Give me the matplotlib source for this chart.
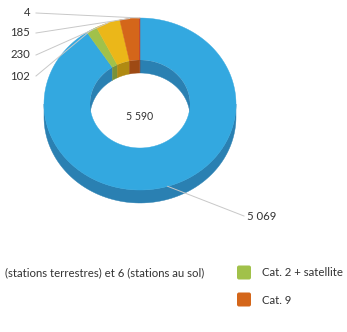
import numpy as np
import matplotlib
matplotlib.use("Agg")
import matplotlib.pyplot as plt
from matplotlib.patches import Polygon, Ellipse, FancyBboxPatch

# ---- data ----
values = [5069, 102, 230, 185, 4]
top_colors = ["#33a8e0", "#a1c14a", "#ebb719", "#d4661a", "#c0392b"]
side_colors = ["#2a80b2", "#78913a", "#b08a12", "#9e4a14", "#8e2a20"]
legend_labels = ["(stations terrestres) et 6 (stations au sol)", "Cat. 2 + satellite", "Cat. 9"]
legend_colors = ["#33a8e0", "#a1c14a", "#d4661a"]
label_pos = [(247, 216, "left"), (30, 76, "right"), (30, 55, "right"), (30, 33, "right"), (30, 13, "right")]

FONT = "Lato"
FS = 8.2
W, H = 347, 332
fig = plt.figure(figsize=(W / 100, H / 100), dpi=100)
ax = fig.add_axes([0, 0, 1, 1])
ax.set_xlim(0, W)
ax.set_ylim(H, 0)
ax.axis("off")

cx, cy = 140, 104
rx, ry = 96, 86
irx, iry = 50, 44
depth = 13

def pt(theta_deg, a, b, dy=0):
    t = np.radians(theta_deg)
    return cx + a * np.sin(t), cy - b * np.cos(t) + dy

total = sum(values)
bounds = np.concatenate([[0], np.cumsum(values)]) / total * 360.0

# outer walls (front half: 90..270)
for i in range(len(values)):
    a0, b0 = max(bounds[i], 90), min(bounds[i + 1], 270)
    if b0 <= a0:
        continue
    th = np.linspace(a0, b0, 100)
    xs, ys = pt(th, rx, ry)
    xs2, ys2 = pt(th[::-1], rx, ry, depth)
    poly = Polygon(np.column_stack([np.r_[xs, xs2], np.r_[ys, ys2]]),
                   closed=True, fc=side_colors[i], ec=side_colors[i], lw=0.3, zorder=1)
    ax.add_patch(poly)

# top faces
for i in range(len(values)):
    th = np.linspace(bounds[i], bounds[i + 1], max(3, int((bounds[i + 1] - bounds[i]) * 2)))
    xo, yo = pt(th, rx, ry)
    xi, yi = pt(th[::-1], irx, iry)
    poly = Polygon(np.column_stack([np.r_[xo, xi], np.r_[yo, yi]]),
                   closed=True, fc=top_colors[i], ec=top_colors[i], lw=0.3, zorder=2)
    ax.add_patch(poly)

# inner walls (back half: -90..90 => 270..450)
clip = Ellipse((cx, cy), 2 * irx, 2 * iry, transform=ax.transData, fc="none", ec="none")
ax.add_patch(clip)
for i in range(len(values)):
    for off in (0, 360):
        lo, hi = bounds[i], bounds[i + 1]
        a0, b0 = max(lo, 270 - off), min(hi, 450 - off)
        if b0 <= a0:
            continue
        th = np.linspace(a0, b0, 100)
        xs, ys = pt(th, irx, iry)
        xs2, ys2 = pt(th[::-1], irx, iry, depth)
        poly = Polygon(np.column_stack([np.r_[xs, xs2], np.r_[ys, ys2]]),
                       closed=True, fc=side_colors[i], ec=side_colors[i], lw=0.3, zorder=3)
        ax.add_patch(poly)
        poly.set_clip_path(clip)

# center total
ax.text(cx, cy + 13, f"{total:,}".replace(",", " "), ha="center", va="center",
        fontsize=7.6, family=FONT, color="#333333", zorder=5)

# labels with leader lines
for i, v in enumerate(values):
    mid = (bounds[i] + bounds[i + 1]) / 2
    px, py = pt(mid, rx, ry)
    lx, ly, ha = label_pos[i]
    sx = lx - 3 if ha == "left" else lx + 6
    ax.plot([sx, px], [ly, py], color="#c8c8c8", lw=0.7, zorder=4)
    ax.text(lx, ly, f"{v:,}".replace(",", " "), ha=ha, va="center",
            fontsize=FS, family=FONT, color="#333333", zorder=5)

# legend
leg_items = [(204, 273, legend_labels[0], None),
             (262, 273, legend_labels[1], legend_colors[1]),
             (262, 300, legend_labels[2], legend_colors[2])]
for x, y, txt, col in leg_items:
    if col is None:
        ax.text(x, y, txt, ha="right", va="center", fontsize=FS, family=FONT, color="#333333")
    else:
        box = FancyBboxPatch((x - 25, y - 7.5), 14, 14, boxstyle="round,pad=0,rounding_size=2",
                             fc=col, ec="none")
        ax.add_patch(box)
        ax.text(x, y, txt, ha="left", va="center", fontsize=FS, family=FONT, color="#333333")

fig.savefig("out.png", dpi=100)
